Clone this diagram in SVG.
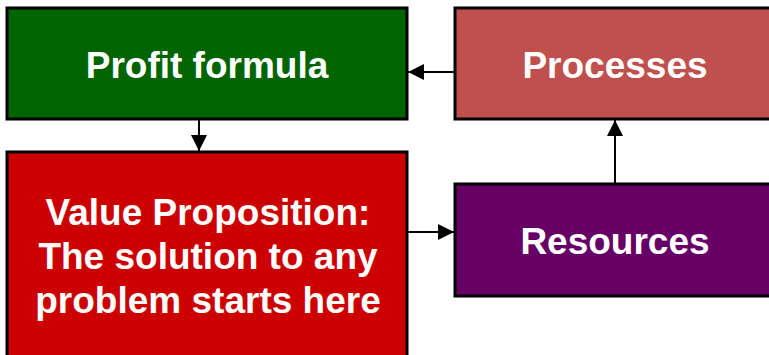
<svg xmlns="http://www.w3.org/2000/svg" width="769" height="355" viewBox="0 0 769 355">
<defs>
<style>
.box{stroke:#000;stroke-width:3}
.lbl{font-family:"Liberation Sans",Arial,sans-serif;font-weight:bold;font-size:37px;fill:#fff;text-anchor:middle}
.con{stroke:#000;stroke-width:2;fill:none}
</style>
<marker id="ah" markerWidth="16" markerHeight="16" refX="16" refY="8" orient="auto" markerUnits="userSpaceOnUse">
<path d="M0,0 L16,8 L0,16 Z" fill="#000"/>
</marker>
</defs>
<rect width="769" height="355" fill="#fff"/>
<g id="profit">
<rect class="box" x="7" y="8" width="400" height="111" fill="#006400"/>
<text class="lbl" x="207" y="78">Profit formula</text>
</g>
<g id="processes">
<rect class="box" x="455" y="8" width="320" height="111" fill="#C0504D"/>
<text class="lbl" x="615" y="78">Processes</text>
</g>
<g id="value">
<rect class="box" x="7" y="152" width="400" height="210" fill="#CC0000"/>
<text class="lbl" x="208" y="225">Value Proposition:</text>
<text class="lbl" x="208" y="269">The solution to any</text>
<text class="lbl" x="208" y="313">problem starts here</text>
</g>
<g id="resources">
<rect class="box" x="455" y="184" width="320" height="112" fill="#660066"/>
<text class="lbl" x="615" y="254">Resources</text>
</g>
<g id="connectors">
<line class="con" x1="455" y1="72" x2="408" y2="72" marker-end="url(#ah)"/>
<line class="con" x1="199" y1="120" x2="199" y2="151" marker-end="url(#ah)"/>
<line class="con" x1="408" y1="232" x2="454" y2="232" marker-end="url(#ah)"/>
<line class="con" x1="615" y1="183" x2="615" y2="120" marker-end="url(#ah)"/>
</g>
</svg>
